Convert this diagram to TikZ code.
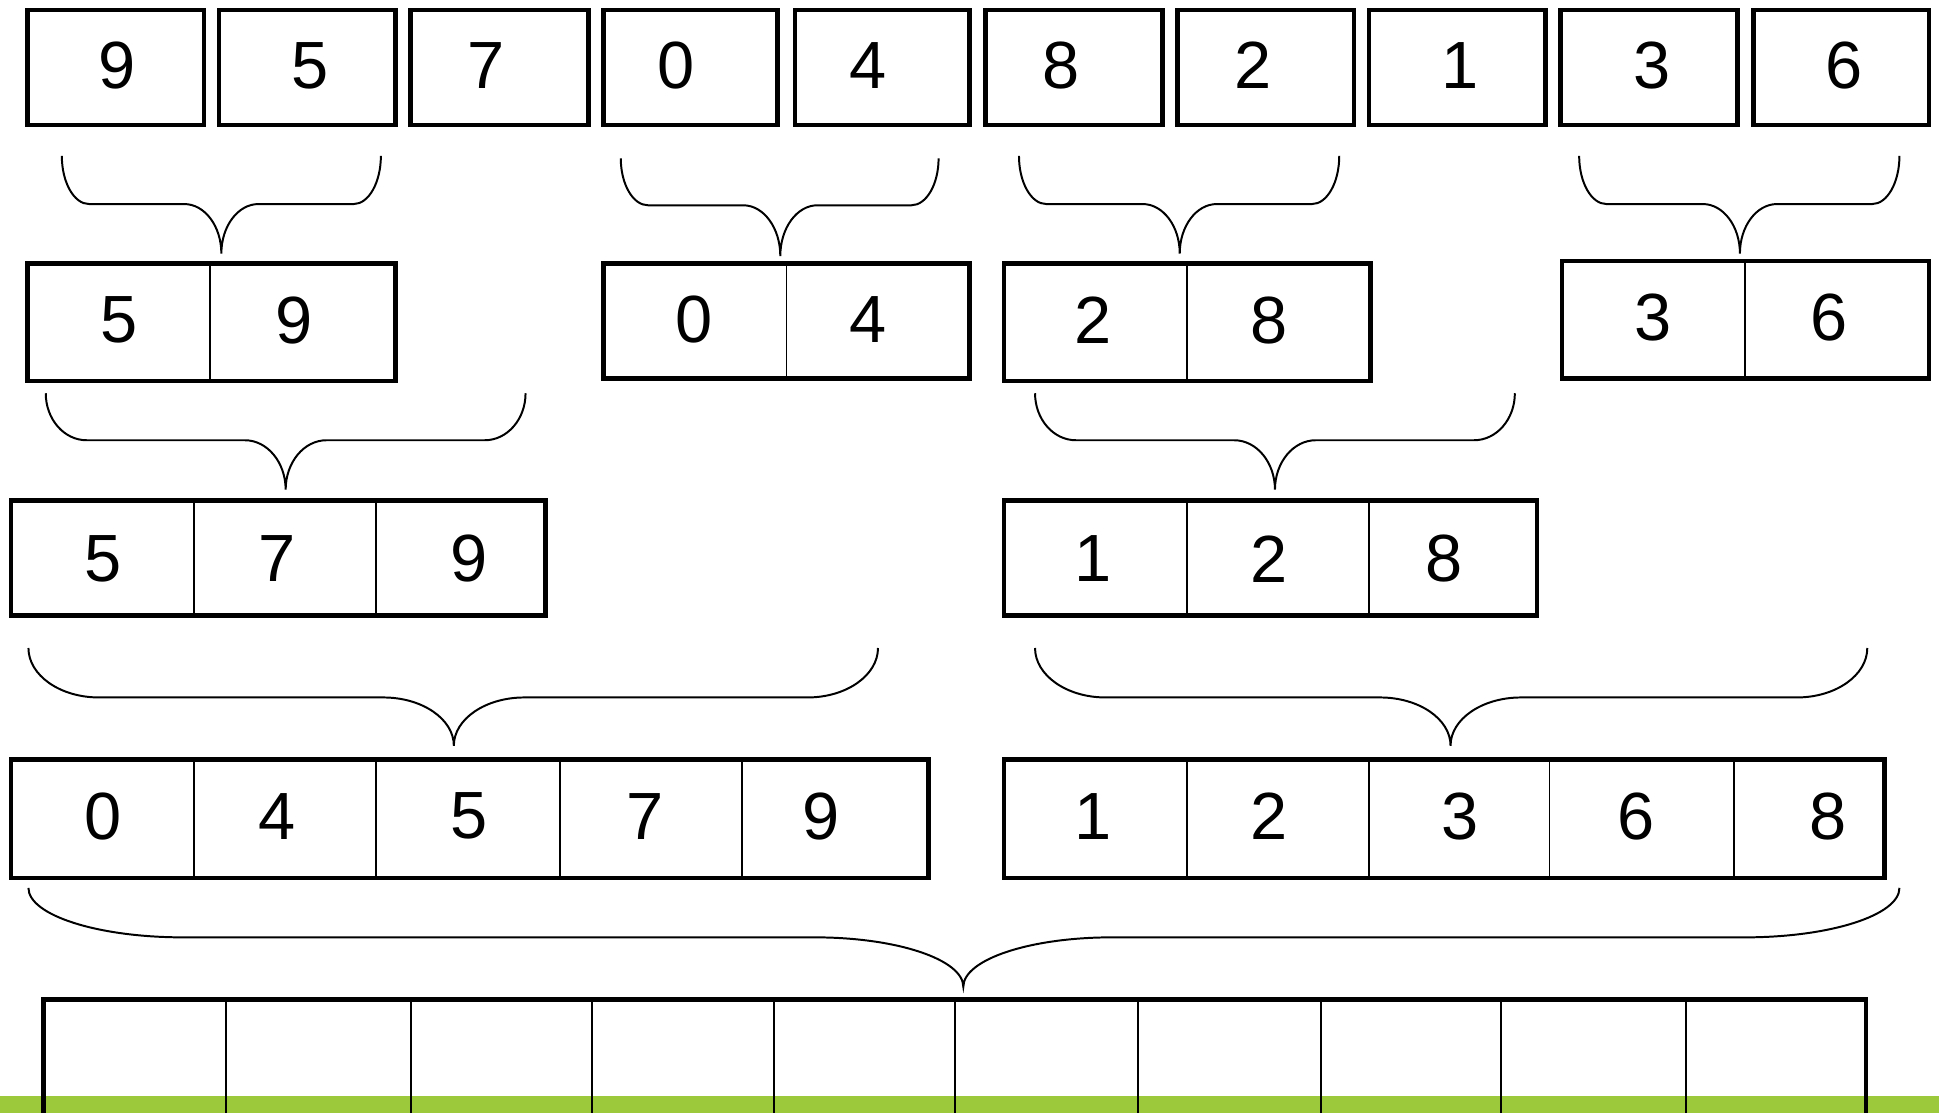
\documentclass[tikz,border=0pt]{standalone}
\usepackage{fontspec}
\setmainfont{Liberation Sans}
\definecolor{barGreen}{RGB}{155,201,59}
\tikzset{
  outerbox/.style={draw=black, line width=1.9pt},
  innerline/.style={draw=black, line width=0.8pt},
  bracel/.style={draw=black, line width=0.8pt},
  digit/.style={inner sep=0pt, font=\fontsize{27}{27}\selectfont, anchor=center}
}
\newcommand\mybrace[8]{%
  \draw[bracel] (#1,#4) .. controls (#1,{#4+0.552*(#5-#4)}) and ({#1+0.448*#7},#5) .. ({#1+#7},#5)
    -- ({#3-#8},#5) .. controls ({#3-0.448*#8},#5) and (#3,{#6-0.552*(#6-#5)}) .. (#3,#6)
    .. controls (#3,{#6-0.552*(#6-#5)}) and ({#3+0.448*#8},#5) .. ({#3+#8},#5)
    -- ({#2-#7},#5) .. controls ({#2-0.448*#7},#5) and (#2,{#4+0.552*(#5-#4)}) .. (#2,#4);%
}
\begin{document}
\begin{tikzpicture}[x=0.5pt,y=-0.5pt]
\useasboundingbox (0,0) rectangle (1568,900);
% green bar
\fill[barGreen] (0,886) rectangle (1568,900);

% Row 1
\foreach \a/\b/\d/\t [count=\i] in {22/165/9/95, 177/320/5/251, 332/476/7/393, 488/629/0/547, 643/784/4/702, 797/940/8/858, 952/1095/2/1013, 1107/1250/1/1181, 1262/1405/3/1336, 1418/1560/6/1491}{
  \draw[outerbox] (\a,8) rectangle (\b,101);
  \node[digit] (ra\i) at (\t,53) {\d};
}

% Braces row1 -> row2
\mybrace{50}{308}{179}{126}{165}{205}{22}{30}
\mybrace{502}{759}{631}{128}{166}{207}{22}{30}
\mybrace{824}{1083}{954}{126}{165}{205}{22}{30}
\mybrace{1277}{1536}{1407}{126}{165}{205}{22}{30}

% Row 2
\draw[innerline] (170,213) -- (170,308);
\draw[outerbox] (22,213) rectangle (320,308);
\node[digit] (rb1) at (96,259) {5};
\node[digit] (rb2) at (238,259) {9};
\draw[innerline] (636,213) -- (636,306);
\draw[outerbox] (488,213) rectangle (784,306);
\node[digit] (rb3) at (561,258) {0};
\node[digit] (rb4) at (702,258) {4};
\draw[innerline] (960,213) -- (960,308);
\draw[outerbox] (812,213) rectangle (1108,308);
\node[digit] (rb5) at (884,259) {2};
\node[digit] (rb6) at (1026,259) {8};
\draw[innerline] (1411,211) -- (1411,306);
\draw[outerbox] (1263,211) rectangle (1560,306);
\node[digit] (rb7) at (1337,257) {3};
\node[digit] (rb8) at (1479,257) {6};

% Braces row2 -> row3
\mybrace{37}{425}{231}{318}{356}{396}{33}{33}
\mybrace{837}{1225}{1031}{318}{356}{396}{33}{33}

% Row 3
\foreach \d in {157,304}{\draw[innerline] (\d,405) -- (\d,498);}
\draw[outerbox] (9,405) rectangle (441,498);
\node[digit] (rc1) at (83,452) {5};
\node[digit] (rc2) at (224,452) {7};
\node[digit] (rc3) at (379,452) {9};
\foreach \d in {960,1107}{\draw[innerline] (\d,405) -- (\d,498);}
\draw[outerbox] (812,405) rectangle (1243,498);
\node[digit] (rc4) at (884,452) {1};
\node[digit] (rc5) at (1026,452) {2};
\node[digit] (rc6) at (1168,452) {8};

% Braces row3 -> row4
\mybrace{23}{710}{367}{524}{564}{603}{57}{57}
\mybrace{837}{1510}{1173}{524}{564}{603}{57}{57}

% Row 4
\foreach \d in {157,304,453,600}{\draw[innerline] (\d,614) -- (\d,710);}
\draw[outerbox] (9,614) rectangle (751,710);
\node[digit] (rd1) at (83,660) {0};
\node[digit] (rd2) at (224,660) {4};
\node[digit] (rd3) at (379,660) {5};
\node[digit] (rd4) at (522,660) {7};
\node[digit] (rd5) at (664,660) {9};
\foreach \d in {960,1107,1253,1402}{\draw[innerline] (\d,614) -- (\d,710);}
\draw[outerbox] (812,614) rectangle (1524,710);
\node[digit] (rd6) at (884,660) {1};
\node[digit] (rd7) at (1026,660) {2};
\node[digit] (rd8) at (1181,660) {3};
\node[digit] (rd9) at (1323,660) {6};
\node[digit] (rd10) at (1478,660) {8};

% Brace row4 -> row5
\mybrace{23}{1536}{779}{718}{758}{798}{125}{120}

% Row 5
\foreach \d in {183,332,479,626,772,920,1068,1214,1363}{\draw[innerline] (\d,808) -- (\d,902);}
\draw[outerbox] (35,902) -- (35,808) -- (1509,808) -- (1509,902);
\end{tikzpicture}
\end{document}
